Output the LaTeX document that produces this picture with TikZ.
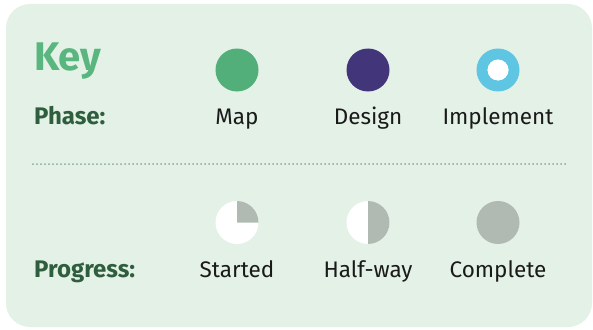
\documentclass[tikz,border=0pt]{standalone}
\usepackage{fontspec}
\setmainfont{Fira Sans}
\usepackage{tikz}

\definecolor{panelbg}{HTML}{E3F1E7}
\definecolor{keygreen}{HTML}{5AB67F}
\definecolor{mapgreen}{HTML}{52AF79}
\definecolor{labelgreen}{HTML}{2E5E3D}
\definecolor{designpurple}{HTML}{42357A}
\definecolor{implcyan}{HTML}{5EC5E2}
\definecolor{donegrey}{HTML}{B1BAB2}
\definecolor{dotgrey}{HTML}{8EAA98}
\definecolor{inkblack}{HTML}{1A1A1A}

\tikzset{
    heading/.style={anchor=base west, inner sep=0pt, font=\bfseries\fontsize{24}{28}\selectfont, text=labelgreen},
    entry/.style={anchor=base, inner sep=0pt, font=\fontsize{22.5}{26}\selectfont, text=inkblack},
}

\begin{document}
\begin{tikzpicture}[x=1pt, y=-1pt]
        \useasboundingbox (0,0) rectangle (593,329);

        % Coordinates
        \coordinate (MapC) at (237,70);
        \coordinate (DesC) at (368,70);
        \coordinate (ImpC) at (498,70);
        \coordinate (StaC) at (237,222.5);
        \coordinate (HalC) at (368,222.5);
        \coordinate (ComC) at (498,222.5);
        \coordinate (DotL) at (33,164);
        \coordinate (DotR) at (566,164);

        % Drawing
        \fill[panelbg, rounded corners=24pt] (6,4) rectangle (592,327);
        \node[anchor=base west, inner sep=0pt, font=\bfseries\fontsize{40}{44}\selectfont, text=keygreen] (key) at (34,70) {Key};
        \node[heading] (phase) at (34,124) {Phase:};
        \node[heading] (progress) at (34,277) {Progress:};

        \fill[mapgreen] (MapC) circle (21.5);
        \fill[designpurple] (DesC) circle (21.5);
        \fill[implcyan, even odd rule] (ImpC) circle (21.5) (ImpC) circle (10.5);
        \fill[white] (ImpC) circle (10.5);
        \node[entry] (map) at (237,124) {Map};
        \node[entry] (design) at (368,124) {Design};
        \node[entry] (implement) at (498,124) {Implement};

        \draw[dotgrey, line width=2pt, line cap=round, dash pattern=on 0pt off 4pt] (DotL) -- (DotR);

        \fill[white] (StaC) circle (21.5);
        \fill[donegrey] (StaC) -- ++(0,-21.5) arc[start angle=-90, end angle=0, radius=21.5] -- cycle;
        \fill[white] (HalC) circle (21.5);
        \fill[donegrey] (HalC) -- ++(0,-21.5) arc[start angle=-90, end angle=90, radius=21.5] -- cycle;
        \fill[donegrey] (ComC) circle (21.5);
        \node[entry] (started) at (237,277) {Started};
        \node[entry] (halfway) at (368,277) {Half-way};
        \node[entry] (complete) at (498,277) {Complete};
\end{tikzpicture}
\end{document}
